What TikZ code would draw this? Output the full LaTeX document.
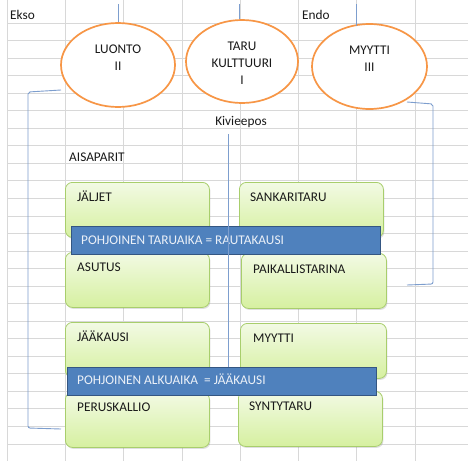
\documentclass[tikz,border=0pt]{standalone}
\usepackage{fontspec}
\setmainfont{Carlito}
\usetikzlibrary{shapes.geometric,shadows}
\definecolor{gridc}{RGB}{216,216,216}
\definecolor{orng}{RGB}{247,150,70}
\definecolor{lnk}{RGB}{125,158,206}
\definecolor{barfill}{RGB}{79,129,189}
\definecolor{barbd}{RGB}{52,86,130}
\definecolor{gtop}{RGB}{242,250,228}
\definecolor{gbot}{RGB}{214,240,160}
\definecolor{gbd}{RGB}{168,206,108}
\definecolor{txt}{RGB}{25,25,25}
\definecolor{bartxt}{RGB}{236,241,248}
\begin{document}
\begin{tikzpicture}[x=1pt,y=-1pt,
  font=\fontsize{13.3}{17.3}\selectfont,
  gridline/.style={draw=gridc, line width=0.8pt},
  conn/.style={draw=lnk, line width=0.9pt, rounded corners=2pt},
  oval/.style={ellipse, draw=orng, line width=1.7pt, fill=white, inner sep=0pt},
  ovaltext/.style={anchor=base, inner sep=0pt, text=txt},
  gbox/.style={rectangle, rounded corners=7pt, draw=gbd, line width=0.8pt,
    top color=gtop, bottom color=gbot, anchor=north west, inner sep=0pt,
    drop shadow={shadow xshift=1pt, shadow yshift=-1.5pt, opacity=0.25}},
  boxtext/.style={anchor=base west, inner sep=0pt, text=txt},
  bar/.style={rectangle, fill=barfill, draw=barbd, line width=1.4pt, anchor=north west, inner sep=0pt},
  bartext/.style={anchor=base west, inner sep=0pt, text=bartxt},
  plain/.style={inner sep=0pt, text=txt}]
\useasboundingbox (0,0) rectangle (468,461);
\fill[white] (0,0) rectangle (468,461);
% grid
\foreach \gx in {7,65.3,123.6,181.9,240.2,298.5,356.8,415.1}
  \draw[gridline] (\gx,0) -- (\gx,461);
\foreach \k in {0,...,24}
  \draw[gridline] (7,23+17.54*\k) -- (468,23+17.54*\k);

% header texts
\node[plain, anchor=base west] (ekso) at (10,19.5) {Ekso};
\node[plain, anchor=base west] (endo) at (302,19.5) {Endo};
\node[plain, anchor=base] (kivi) at (241,125) {Kivieepos};
\node[plain, anchor=base west] (aisa) at (69,161) {AISAPARIT};

% connectors (behind ellipses)
\coordinate (t1) at (118,4);
\coordinate (t2) at (239,4);
\coordinate (t3) at (356,4);
\coordinate (t3e) at (356,26);
\coordinate (lb1) at (61,90);
\coordinate (lb2) at (61,429);
\coordinate (rb1) at (407,102);
\coordinate (rb2) at (407,285);
\coordinate (m1) at (228,134);
\coordinate (m2) at (228,367);

% ellipses
\node[oval, minimum width=114pt, minimum height=84pt] (luonto) at (118,65) {};
\node[oval, minimum width=112pt, minimum height=83pt] (taru) at (242,61.5) {};
\node[oval, minimum width=115pt, minimum height=85pt] (myytti) at (369.5,66.5) {};
\draw[conn] (t1) -- (luonto.north);
\draw[conn] (t2) -- (taru.north -| t2);
\draw[conn] (t3) -- (t3e);
\node[ovaltext] (luontot) at (118,53) {\begin{tabular}[t]{@{}c@{}}LUONTO\\II\end{tabular}};
\node[ovaltext] (tarut) at (242,50) {\begin{tabular}[t]{@{}c@{}}TARU\\KULTTUURI\\I\end{tabular}};
\node[ovaltext] (myyttit) at (369.5,54) {\begin{tabular}[t]{@{}c@{}}MYYTTI\\III\end{tabular}};

% brackets
\draw[conn] (lb1) -- (28,92) -- (28,428) -- (lb2);
\draw[conn] (rb1) -- (433,104) -- (433,284) -- (rb2);

% green boxes
\node[gbox, minimum width=144pt, minimum height=55pt] (jaljet) at (65,182) {};
\node[gbox, minimum width=144pt, minimum height=55pt] (sankari) at (239,182) {};
\node[gbox, minimum width=144pt, minimum height=55pt] (asutus) at (65,252) {};
\node[gbox, minimum width=145pt, minimum height=55pt] (paikal) at (241,253) {};
\node[gbox, minimum width=144pt, minimum height=55pt] (jaakausi) at (65,322) {};
\node[gbox, minimum width=146pt, minimum height=55pt] (myytti2) at (240,323) {};
\node[gbox, minimum width=144pt, minimum height=55pt] (perus) at (65,392) {};
\node[gbox, minimum width=144pt, minimum height=55pt] (synty) at (238,391) {};

\node[boxtext] (jaljett) at (77,201) {JÄLJET};
\node[boxtext] (sankarit) at (250,201) {SANKARITARU};
\node[boxtext] (asutust) at (77,271) {ASUTUS};
\node[boxtext] (paikalt) at (253,273) {PAIKALLISTARINA};
\node[boxtext] (jaakausit) at (77,341) {JÄÄKAUSI};
\node[boxtext] (myytti2t) at (253,342) {MYYTTI};
\node[boxtext] (perust) at (77,411) {PERUSKALLIO};
\node[boxtext] (syntyt) at (249,410.5) {SYNTYTARU};

% bars
\node[bar, minimum width=309pt, minimum height=28pt] (bar1) at (71,226) {};
\node[bartext] (bar1t) at (81,244) {POHJOINEN TARUAIKA = RAUTAKAUSI};
\node[bar, minimum width=309pt, minimum height=28pt] (bar2) at (67,367) {};
\node[bartext] (bar2t) at (77,384) {POHJOINEN ALKUAIKA \ = JÄÄKAUSI};

% middle line
\draw[conn] (m1) -- (m2);
\end{tikzpicture}
\end{document}
